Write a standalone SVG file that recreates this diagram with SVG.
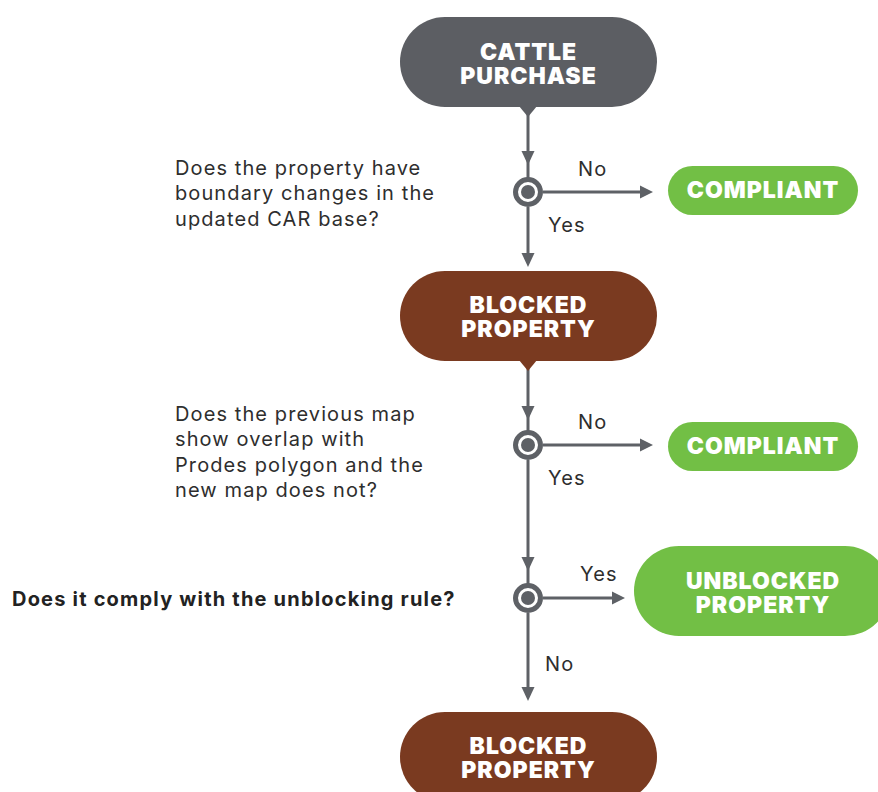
<svg xmlns="http://www.w3.org/2000/svg" width="878" height="792" viewBox="0 0 878 792">
<style>
.t{font-family:Inter,"Noto Sans","DejaVu Sans",sans-serif;font-size:20px;letter-spacing:1.1px;fill:#2e2e2e}
.b{font-family:Inter,"Noto Sans","DejaVu Sans",sans-serif;font-size:20px;font-weight:700;letter-spacing:1.2px;fill:#222}
.n{font-family:Inter,"Open Sans","DejaVu Sans",sans-serif;font-size:23px;font-weight:900;letter-spacing:1px;fill:#fff;text-anchor:middle}
.c{fill:none;stroke:#5e6166;stroke-width:3}
.ah{fill:#5e6166}
.ring{fill:#fff;stroke:#5e6166;stroke-width:5}
.dot{fill:#5e6166}
</style>
<rect width="878" height="792" fill="#fff"/>
<g id="connectors">
<line class="c" x1="528" y1="110" x2="528" y2="178"/>
<path class="ah" d="M521.5,151 L534.5,151 L528,165 Z"/>
<line class="c" x1="543" y1="192" x2="642" y2="192"/>
<path class="ah" d="M640,185.5 L653,192 L640,198.5 Z"/>
<line class="c" x1="528" y1="207" x2="528" y2="256"/>
<path class="ah" d="M521.5,253 L534.5,253 L528,267 Z"/>
<line class="c" x1="528" y1="364" x2="528" y2="431"/>
<path class="ah" d="M521.5,406 L534.5,406 L528,420 Z"/>
<line class="c" x1="543" y1="445" x2="642" y2="445"/>
<path class="ah" d="M640,438.5 L653,445 L640,451.5 Z"/>
<line class="c" x1="528" y1="460" x2="528" y2="584"/>
<path class="ah" d="M521.5,557 L534.5,557 L528,571 Z"/>
<line class="c" x1="543" y1="598" x2="614" y2="598"/>
<path class="ah" d="M612,591.5 L625,598 L612,604.5 Z"/>
<line class="c" x1="528" y1="613" x2="528" y2="690"/>
<path class="ah" d="M521.5,687 L534.5,687 L528,701 Z"/>
</g>
<g id="cattle-purchase">
<rect x="400" y="17" width="257" height="90" rx="45" fill="#5c5e63"/>
<path d="M519,106 L537,106 L528,117 Z" fill="#5c5e63"/>
<text class="n" x="528.5" y="60">CATTLE</text>
<text class="n" x="528.5" y="84">PURCHASE</text>
</g>
<g id="decision-1">
<circle class="ring" cx="528" cy="192" r="12.5"/>
<circle class="dot" cx="528" cy="192" r="7"/>
<text class="t" x="175" y="175">Does the property have</text>
<text class="t" x="175" y="200">boundary changes in the</text>
<text class="t" x="175" y="226">updated CAR base?</text>
</g>
<g id="compliant-1">
<rect x="668" y="166" width="190" height="49" rx="24.5" fill="#72bf45"/>
<text class="n" x="763" y="198">COMPLIANT</text>
</g>
<g id="blocked-property-1">
<rect x="400" y="271" width="257" height="90" rx="45" fill="#7a3a20"/>
<path d="M519,360 L537,360 L528,371 Z" fill="#7a3a20"/>
<text class="n" x="528.5" y="313">BLOCKED</text>
<text class="n" x="528.5" y="337">PROPERTY</text>
</g>
<g id="decision-2">
<circle class="ring" cx="528" cy="445" r="12.5"/>
<circle class="dot" cx="528" cy="445" r="7"/>
<text class="t" x="175" y="421">Does the previous map</text>
<text class="t" x="175" y="446">show overlap with</text>
<text class="t" x="175" y="472">Prodes polygon and the</text>
<text class="t" x="175" y="497">new map does not?</text>
</g>
<g id="compliant-2">
<rect x="668" y="422" width="190" height="49" rx="24.5" fill="#72bf45"/>
<text class="n" x="763" y="454">COMPLIANT</text>
</g>
<g id="decision-3">
<circle class="ring" cx="528" cy="598" r="12.5"/>
<circle class="dot" cx="528" cy="598" r="7"/>
<text class="b" x="12" y="606">Does it comply with the unblocking rule?</text>
</g>
<g id="unblocked-property">
<rect x="634" y="546" width="256" height="90" rx="45" fill="#72bf45"/>
<text class="n" x="763" y="589">UNBLOCKED</text>
<text class="n" x="763" y="613">PROPERTY</text>
</g>
<g id="blocked-property-2">
<rect x="400" y="712" width="257" height="90" rx="45" fill="#7a3a20"/>
<text class="n" x="528.5" y="754">BLOCKED</text>
<text class="n" x="528.5" y="778">PROPERTY</text>
</g>
<g id="labels">
<text class="t" x="578" y="176">No</text>
<text class="t" x="548" y="232">Yes</text>
<text class="t" x="578" y="429">No</text>
<text class="t" x="548" y="485">Yes</text>
<text class="t" x="580" y="581">Yes</text>
<text class="t" x="545" y="671">No</text>
</g>
</svg>
